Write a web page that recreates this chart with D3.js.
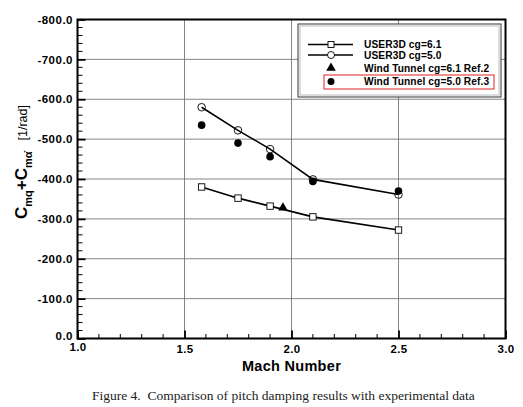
<!DOCTYPE html>
<html>
<head>
<meta charset="utf-8">
<script src="https://cdn.jsdelivr.net/npm/d3@7"></script>
<style>
  body { margin: 0; background: #fff; }
  svg { display: block; }
</style>
</head>
<body>
<svg width="523" height="407"></svg>
<script>
// values
const mach = [1.58, 1.75, 1.9, 2.1, 2.5];
const user61 = [-380, -352, -332, -305, -272];
const user50 = [-580, -522, -475, -399, -361];
const wt50 = [-535, -490, -456, -394, -370];
const wt61Mach = [1.96];
const wt61 = [-328];

const xTicks = [1.0, 1.5, 2.0, 2.5, 3.0];
const yTicks = [0, -100, -200, -300, -400, -500, -600, -700, -800];

const legendNames = ['USER3D cg=6.1', 'USER3D cg=5.0', 'Wind Tunnel cg=6.1 Ref.2', 'Wind Tunnel cg=5.0 Ref.3'];

const svg = d3.select('svg');
const font = '"Liberation Sans", Arial, Helvetica, sans-serif';
const fmt = d => d.toFixed(1); // plain hyphen, like the original

const x = d3.scaleLinear().domain([1, 3]).range([77.5, 505.5]);
const y = d3.scaleLinear().domain([0, -800]).range([338.5, 19.5]);

// grid
svg.append('g')
	.selectAll('line')
	.data(xTicks.slice(1, -1))
	.enter()
	.append('line')
	.attr('x1', d => x(d)).attr('x2', d => x(d))
	.attr('y1', y(0)).attr('y2', y(-800))
	.attr('stroke', '#777').attr('stroke-width', 0.9);
svg.append('g')
	.selectAll('line')
	.data(yTicks.slice(1, -1))
	.enter()
	.append('line')
	.attr('y1', d => y(d)).attr('y2', d => y(d))
	.attr('x1', x(1)).attr('x2', x(3))
	.attr('stroke', '#777').attr('stroke-width', 0.9);

// minor ticks (inward)
const xMinor = d3.range(1.1, 3.0, 0.1).filter(v => Math.abs(v * 2 - Math.round(v * 2)) > 0.01);
const yMinor = d3.range(-20, -800, -20).filter(v => v % 100 !== 0);
svg.append('g')
	.selectAll('line')
	.data(xMinor)
	.enter()
	.append('line')
	.attr('x1', d => x(d)).attr('x2', d => x(d))
	.attr('y1', y(0)).attr('y2', y(0) - 4.5)
	.attr('stroke', '#000').attr('stroke-width', 1);
svg.append('g')
	.selectAll('line')
	.data(yMinor)
	.enter()
	.append('line')
	.attr('y1', d => y(d)).attr('y2', d => y(d))
	.attr('x1', x(1)).attr('x2', x(1) + 5)
	.attr('stroke', '#000').attr('stroke-width', 1);

// axes with major ticks inward
const xAxis = svg.append('g')
	.attr('transform', `translate(0,${y(0)})`)
	.call(d3.axisBottom(x).tickValues(xTicks).tickFormat(fmt).tickSizeInner(-8).tickSizeOuter(0).tickPadding(5));
xAxis.select('.domain').remove();
xAxis.selectAll('.tick line').attr('stroke-width', 1.8);
xAxis.selectAll('text')
	.attr('font-family', font).attr('font-weight', 'bold').attr('font-size', 11.5)
	.attr('y', 14).attr('dy', 0).attr('letter-spacing', 0.4);

const yAxis = svg.append('g')
	.attr('transform', `translate(${x(1)},0)`)
	.call(d3.axisLeft(y).tickValues(yTicks).tickFormat(fmt).tickSizeInner(-8).tickSizeOuter(0).tickPadding(4));
yAxis.select('.domain').remove();
yAxis.selectAll('.tick line').attr('stroke-width', 1.8);
yAxis.selectAll('text')
	.attr('font-family', font).attr('font-weight', 'bold').attr('font-size', 11.5)
	.attr('x', -4.5).attr('letter-spacing', 0.5);
yAxis.selectAll('.tick').filter(d => d === 0).select('text').attr('dy', '0.1em');
xAxis.selectAll('.tick').filter(d => d === 1).select('text').attr('y', 12);

// frame
svg.append('rect')
	.attr('x', x(1)).attr('y', y(-800))
	.attr('width', x(3) - x(1)).attr('height', y(0) - y(-800))
	.attr('fill', 'none').attr('stroke', '#000').attr('stroke-width', 2);

// axis titles
svg.append('text')
	.attr('x', x(2)).attr('y', 371)
	.attr('text-anchor', 'middle')
	.attr('font-family', font).attr('font-weight', 'bold').attr('font-size', 14.5)
	.attr('letter-spacing', 0.3)
	.text('Mach Number');

const yt = svg.append('text')
	.attr('transform', 'translate(27,219) rotate(-90)')
	.attr('font-family', font).attr('font-weight', 'bold').attr('font-size', 17);
yt.append('tspan').text('C');
yt.append('tspan').attr('font-size', 11).attr('dy', 4.5).text('mq');
yt.append('tspan').attr('dy', -4.5).text('+C');
yt.append('tspan').attr('font-size', 11).attr('dy', 4.5).text('mα̇');
yt.append('tspan').attr('dy', -4.5).attr('dx', 11).attr('font-weight', 'normal').attr('font-size', 12.5).text('[1/rad]');

// lines
const line = d3.line().x(d => x(d[0])).y(d => y(d[1]));
svg.append('path')
	.datum(d3.zip(mach, user61))
	.attr('d', line).attr('fill', 'none').attr('stroke', '#000').attr('stroke-width', 1.6);
svg.append('path')
	.datum(d3.zip(mach, user50))
	.attr('d', line).attr('fill', 'none').attr('stroke', '#000').attr('stroke-width', 1.6);

// markers
svg.append('g')
	.selectAll('circle')
	.data(d3.zip(mach, wt50))
	.enter()
	.append('circle')
	.attr('cx', d => x(d[0])).attr('cy', d => y(d[1])).attr('r', 3.8)
	.attr('fill', '#000');
svg.append('g')
	.selectAll('circle')
	.data(d3.zip(mach, user50))
	.enter()
	.append('circle')
	.attr('cx', d => x(d[0])).attr('cy', d => y(d[1])).attr('r', 3.8)
	.attr('fill', 'none').attr('stroke', '#000').attr('stroke-width', 0.9);
svg.append('g')
	.selectAll('rect')
	.data(d3.zip(mach, user61))
	.enter()
	.append('rect')
	.attr('x', d => x(d[0]) - 3.2).attr('y', d => y(d[1]) - 3.2)
	.attr('width', 6.4).attr('height', 6.4)
	.attr('fill', '#fff').attr('stroke', '#000').attr('stroke-width', 0.9);
const tri = d3.symbol().type(d3.symbolTriangle).size(40);
svg.append('g')
	.selectAll('path')
	.data(d3.zip(wt61Mach, wt61))
	.enter()
	.append('path')
	.attr('transform', d => `translate(${x(d[0])},${y(d[1])})`)
	.attr('d', tri).attr('fill', '#000');

// legend
const lg = svg.append('g');
lg.append('rect')
	.attr('x', 298).attr('y', 24).attr('width', 203).attr('height', 73)
	.attr('fill', '#fff').attr('stroke', '#333').attr('stroke-width', 1);
lg.append('rect')
	.attr('x', 300).attr('y', 26).attr('width', 199).attr('height', 69)
	.attr('fill', 'none').attr('stroke', '#aaa').attr('stroke-width', 0.8);
const legY = [44.5, 55, 68, 81.5];
lg.selectAll('text')
	.data(legendNames)
	.enter()
	.append('text')
	.attr('x', 364).attr('y', (d, i) => legY[i]).attr('dy', '0.35em')
	.attr('font-family', font).attr('font-weight', 'bold').attr('font-size', 10.2)
	.attr('letter-spacing', 0.1)
	.text(d => d);
[0, 1].forEach(i => {
	lg.append('line')
		.attr('x1', 308).attr('x2', 353).attr('y1', legY[i]).attr('y2', legY[i])
		.attr('stroke', '#000').attr('stroke-width', 1.4);
});
lg.append('rect')
	.attr('x', 328).attr('y', legY[0] - 3).attr('width', 6).attr('height', 6)
	.attr('fill', '#fff').attr('stroke', '#000').attr('stroke-width', 0.9);
lg.append('circle')
	.attr('cx', 331).attr('cy', legY[1]).attr('r', 3.5)
	.attr('fill', '#fff').attr('stroke', '#000').attr('stroke-width', 0.9);
lg.append('path')
	.attr('transform', `translate(331,${legY[2]})`)
	.attr('d', tri).attr('fill', '#000');
lg.append('circle')
	.attr('cx', 331).attr('cy', legY[3]).attr('r', 3.5)
	.attr('fill', '#000');
lg.append('rect')
	.attr('x', 324).attr('y', 75).attr('width', 170).attr('height', 14)
	.attr('fill', 'none').attr('stroke', '#e02020').attr('stroke-width', 1);

// caption
svg.append('text')
	.attr('x', 92).attr('y', 400)
	.attr('font-family', '"Liberation Serif", "Times New Roman", serif')
	.attr('font-size', 13.5)
	.attr('fill', '#222')
	.attr('xml:space', 'preserve')
	.text('Figure 4.  Comparison of pitch damping results with experimental data');
</script>
</body>
</html>
